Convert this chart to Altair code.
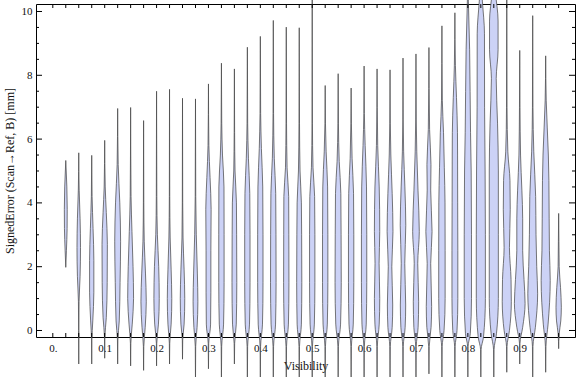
import altair as alt
import pandas as pd

# ---------------- data ----------------
positions = [0.025, 0.05, 0.075, 0.1, 0.125, 0.15, 0.175, 0.2, 0.225, 0.25,
             0.275, 0.3, 0.325, 0.35, 0.375, 0.4, 0.425, 0.45, 0.475, 0.5,
             0.525, 0.55, 0.575, 0.6, 0.625, 0.65, 0.675, 0.7, 0.725, 0.75,
             0.775, 0.8, 0.825, 0.85, 0.875, 0.9, 0.925, 0.95, 0.975]

# knots of each violin's outline: signed error values (mm) ...
profile_y = [
    [1.98, 2.5, 3.2, 3.8, 4.5, 5.0, 5.33],
    [-1.05, 0.0, 0.9, 1.7, 2.6, 3.5, 4.4, 5.57],
    [-1.05, -0.3, 0.3, 1.2, 2.2, 3.2, 4.2, 5.49],
    [-0.87, -0.2, 0.4, 1.5, 2.7, 3.7, 4.5, 5.96],
    [-1.05, -0.3, 0.3, 1.5, 2.8, 4.0, 5.2, 6.96],
    [-1.11, -0.4, 0.2, 1.0, 2.0, 3.1, 4.2, 5.5, 6.99],
    [-1.25, -0.5, 0.1, 0.9, 1.8, 2.8, 4.0, 6.58],
    [-1.11, -0.4, 0.2, 1.0, 2.0, 3.0, 4.2, 7.5],
    [-1.05, -0.4, 0.2, 1.0, 1.9, 2.9, 4.2, 7.56],
    [-0.9, -0.3, 0.2, 1.0, 1.9, 2.9, 4.0, 7.28],
    [-1.6, -0.5, 0.1, 0.9, 1.8, 3.0, 4.2, 7.26],
    [-1.2, -0.4, 0.2, 1.2, 2.5, 3.8, 4.8, 5.8, 7.73],
    [-1.6, -0.5, 0.2, 1.5, 3.0, 4.5, 5.5, 6.5, 8.38],
    [-1.05, -0.4, 0.2, 1.5, 3.0, 4.0, 5.0, 6.2, 8.2],
    [-1.6, -0.5, 0.2, 1.5, 3.0, 4.3, 5.4, 6.5, 8.88],
    [-1.6, -0.5, 0.2, 1.5, 3.0, 4.5, 5.7, 6.8, 9.22],
    [-1.6, -0.5, 0.2, 1.5, 3.0, 4.3, 5.4, 6.8, 9.72],
    [-1.6, -0.5, 0.2, 1.5, 3.0, 4.2, 5.1, 6.5, 9.51],
    [-1.6, -0.5, 0.2, 1.5, 3.0, 4.0, 5.0, 6.5, 9.49],
    [-1.6, -0.5, 0.2, 1.5, 3.0, 4.2, 5.1, 6.5, 10.6],
    [-1.6, -0.5, 0.2, 1.5, 3.0, 4.5, 5.6, 6.5, 7.68],
    [-1.6, -0.5, 0.2, 1.5, 3.0, 4.3, 5.3, 6.5, 8.05],
    [-1.6, -0.5, 0.2, 1.5, 3.0, 4.3, 5.4, 6.5, 7.6],
    [-1.6, -0.5, 0.2, 1.5, 3.0, 4.5, 5.8, 6.8, 8.29],
    [-1.6, -0.5, 0.2, 1.0, 2.1, 3.1, 4.5, 5.8, 8.2],
    [-1.6, -0.5, 0.1, 0.8, 2.0, 3.1, 4.3, 5.5, 6.5, 8.17],
    [-1.6, -0.5, 0.1, 0.8, 2.1, 3.3, 4.5, 5.6, 6.6, 8.54],
    [-1.6, -0.5, 0.1, 0.9, 2.1, 3.1, 4.4, 5.6, 6.6, 8.67],
    [-1.36, -0.5, 0.1, 0.75, 2.1, 3.1, 4.4, 5.2, 6.3, 8.87],
    [-1.6, -0.5, 0.0, 1.0, 2.5, 4.0, 5.1, 6.2, 7.2, 9.55],
    [-1.6, -0.5, 0.0, 1.0, 2.5, 4.0, 5.5, 6.2, 7.3, 8.3, 9.96],
    [-1.6, -0.5, -0.1, 1.0, 3.0, 5.0, 6.2, 7.5, 8.8, 10.3, 11.0],
    [-1.6, -0.6, -0.2, 1.0, 3.0, 5.0, 7.0, 9.3, 10.3, 11.0],
    [-1.6, -0.6, -0.1, 1.0, 3.0, 5.0, 6.5, 7.9, 8.8, 9.7, 10.6, 11.2],
    [-1.31, -0.5, 0.0, 0.9, 1.6, 2.6, 3.8, 4.7, 5.6, 7.0, 11.0],
    [-1.05, -0.4, 0.1, 0.85, 1.6, 2.5, 3.5, 4.4, 5.5, 7.0, 8.78],
    [-1.6, -0.5, 0.1, 1.15, 2.0, 3.0, 4.2, 5.6, 7.0, 9.87],
    [-1.31, -0.5, 0.2, 1.57, 2.5, 3.5, 4.7, 5.5, 7.2, 8.61],
    [-0.57, -0.1, 0.3, 0.73, 1.35, 2.0, 2.8, 3.67],
]
# ... and the relative density (violin half-width) at those knots
profile_d = [
    [0, 0.12, 0.25, 0.27, 0.2, 0.08, 0],
    [0, 0.02, 0.06, 0.25, 0.33, 0.25, 0.08, 0],
    [0, 0.03, 0.2, 0.4, 0.4, 0.25, 0.07, 0],
    [0, 0.04, 0.3, 0.47, 0.5, 0.3, 0.1, 0],
    [0, 0.04, 0.3, 0.45, 0.55, 0.4, 0.1, 0],
    [0, 0.04, 0.3, 0.55, 0.45, 0.25, 0.08, 0.03, 0],
    [0, 0.04, 0.3, 0.5, 0.35, 0.12, 0.04, 0],
    [0, 0.04, 0.35, 0.5, 0.4, 0.15, 0.05, 0],
    [0, 0.04, 0.3, 0.42, 0.3, 0.12, 0.04, 0],
    [0, 0.04, 0.3, 0.42, 0.3, 0.1, 0.04, 0],
    [0, 0.04, 0.3, 0.45, 0.35, 0.15, 0.05, 0],
    [0, 0.05, 0.4, 0.45, 0.45, 0.5, 0.3, 0.08, 0],
    [0, 0.05, 0.4, 0.5, 0.5, 0.48, 0.2, 0.06, 0],
    [0, 0.05, 0.35, 0.45, 0.42, 0.38, 0.12, 0.04, 0],
    [0, 0.05, 0.4, 0.5, 0.5, 0.45, 0.2, 0.06, 0],
    [0, 0.05, 0.4, 0.5, 0.5, 0.45, 0.2, 0.06, 0],
    [0, 0.05, 0.42, 0.52, 0.5, 0.45, 0.18, 0.05, 0],
    [0, 0.05, 0.4, 0.5, 0.48, 0.45, 0.15, 0.05, 0],
    [0, 0.05, 0.4, 0.48, 0.45, 0.4, 0.15, 0.05, 0],
    [0, 0.05, 0.4, 0.5, 0.5, 0.45, 0.15, 0.04, 0],
    [0, 0.05, 0.4, 0.5, 0.5, 0.45, 0.18, 0.05, 0],
    [0, 0.05, 0.45, 0.58, 0.55, 0.5, 0.2, 0.05, 0],
    [0, 0.05, 0.4, 0.5, 0.5, 0.45, 0.18, 0.05, 0],
    [0, 0.05, 0.4, 0.5, 0.5, 0.45, 0.2, 0.05, 0],
    [0, 0.05, 0.4, 0.5, 0.38, 0.5, 0.4, 0.12, 0],
    [0, 0.05, 0.4, 0.5, 0.33, 0.55, 0.4, 0.15, 0.05, 0],
    [0, 0.05, 0.4, 0.5, 0.33, 0.52, 0.35, 0.12, 0.04, 0],
    [0, 0.05, 0.4, 0.5, 0.33, 0.62, 0.38, 0.15, 0.05, 0],
    [0, 0.05, 0.4, 0.5, 0.33, 0.58, 0.33, 0.38, 0.12, 0],
    [0, 0.05, 0.4, 0.6, 0.6, 0.58, 0.45, 0.3, 0.08, 0],
    [0, 0.05, 0.4, 0.55, 0.55, 0.52, 0.5, 0.48, 0.3, 0.1, 0],
    [0, 0.05, 0.45, 0.68, 0.68, 0.62, 0.5, 0.42, 0.33, 0.1, 0],
    [0, 0.05, 0.5, 0.85, 0.85, 0.8, 0.7, 0.68, 0.3, 0],
    [0, 0.05, 0.5, 0.85, 0.85, 0.85, 0.7, 0.45, 0.8, 0.8, 0.3, 0],
    [0, 0.05, 0.5, 0.85, 0.8, 0.5, 0.65, 0.6, 0.2, 0.05, 0],
    [0, 0.05, 0.55, 1.0, 0.8, 0.55, 0.55, 0.4, 0.15, 0.05, 0],
    [0, 0.05, 0.5, 0.92, 0.75, 0.62, 0.55, 0.2, 0.05, 0],
    [0, 0.05, 0.45, 0.85, 0.7, 0.65, 0.6, 0.5, 0.1, 0],
    [0, 0.1, 0.4, 0.5, 0.35, 0.1, 0.05, 0],
]

x_label_values = [0.0, 0.1, 0.2, 0.3, 0.4, 0.5, 0.6, 0.7, 0.8, 0.9]
x_tick_values = [0.0] + positions
y_label_values = [0, 2, 4, 6, 8, 10]
y_minor_values = [0.5, 1, 1.5, 2.5, 3, 3.5, 4.5, 5, 5.5, 6.5, 7, 7.5,
                  8.5, 9, 9.5]

# ---------------- layout ----------------
W, H = 539, 333
HALF = 0.0103  # half-width (in x units) of a violin at density 1
FONT = "Liberation Serif"

rows = []
for i, (p, ys, ds) in enumerate(zip(positions, profile_y, profile_d)):
    for y, d in zip(ys, ds):
        rows.append({"g": i, "y": y, "xl": p - d * HALF, "xr": p + d * HALF})
df = pd.DataFrame(rows)

xscale = alt.Scale(domain=[-0.0324, 1.0065], nice=False, zero=False)
yscale = alt.Scale(domain=[-0.204, 10.235], nice=False, zero=False)

xaxis = alt.Axis(values=x_label_values, ticks=False, domain=False, grid=False,
                 labelExpr="datum.value == 0 ? '0.' : format(datum.value, '.1f')",
                 labelOverlap=False, labelFlush=False, labelPadding=5,
                 title="Visibility", titlePadding=7)
yaxis = alt.Axis(values=y_label_values, ticks=False, domain=False, grid=False,
                 format="d", labelPadding=4, labelOverlap=False, labelFlush=False,
                 title="SignedError (Scan\u2192Ref, B) [mm]", titlePadding=5)

violins = alt.Chart(df).mark_area(
    orient="horizontal", interpolate="monotone", fill="#ccd2f6",
    stroke="#444444", strokeWidth=0.9, strokeOpacity=0.8,
).encode(
    y=alt.Y("y:Q", scale=yscale, axis=yaxis),
    x=alt.X("xl:Q", scale=xscale, axis=xaxis),
    x2="xr:Q",
    detail="g:N",
)

xt = pd.DataFrame({"t": x_tick_values})
ymaj = pd.DataFrame({"t": y_label_values})
ymin = pd.DataFrame({"t": y_minor_values})

def xticks(y0, y1):
    return alt.Chart(xt).mark_rule(color="black", strokeWidth=1).encode(
        x=alt.X("t:Q", scale=xscale, axis=xaxis),
        y=alt.value(y0), y2=alt.value(y1))

def yticks(data, x0, x1):
    return alt.Chart(data).mark_rule(color="black", strokeWidth=1).encode(
        y=alt.Y("t:Q", scale=yscale, axis=yaxis),
        x=alt.value(x0), x2=alt.value(x1))

chart = alt.layer(
    violins,
    xticks(H, H - 4), xticks(0, 4),
    yticks(ymaj, 0, 6), yticks(ymin, 0, 3),
    yticks(ymaj, W, W - 6), yticks(ymin, W, W - 3),
).properties(
    width=W, height=H,
    padding={"left": 36, "top": 4, "right": 1, "bottom": 40},
    autosize=alt.AutoSizeParams(type="none"),
).configure_view(
    stroke="black", strokeWidth=1,
).configure_axis(
    labelFont=FONT, labelFontSize=11, labelColor="#111111",
    titleFont=FONT, titleFontSize=12, titleFontWeight="normal", titleColor="#111111",
)

chart.save("out.html", embed_options={"renderer": "svg", "actions": False})
